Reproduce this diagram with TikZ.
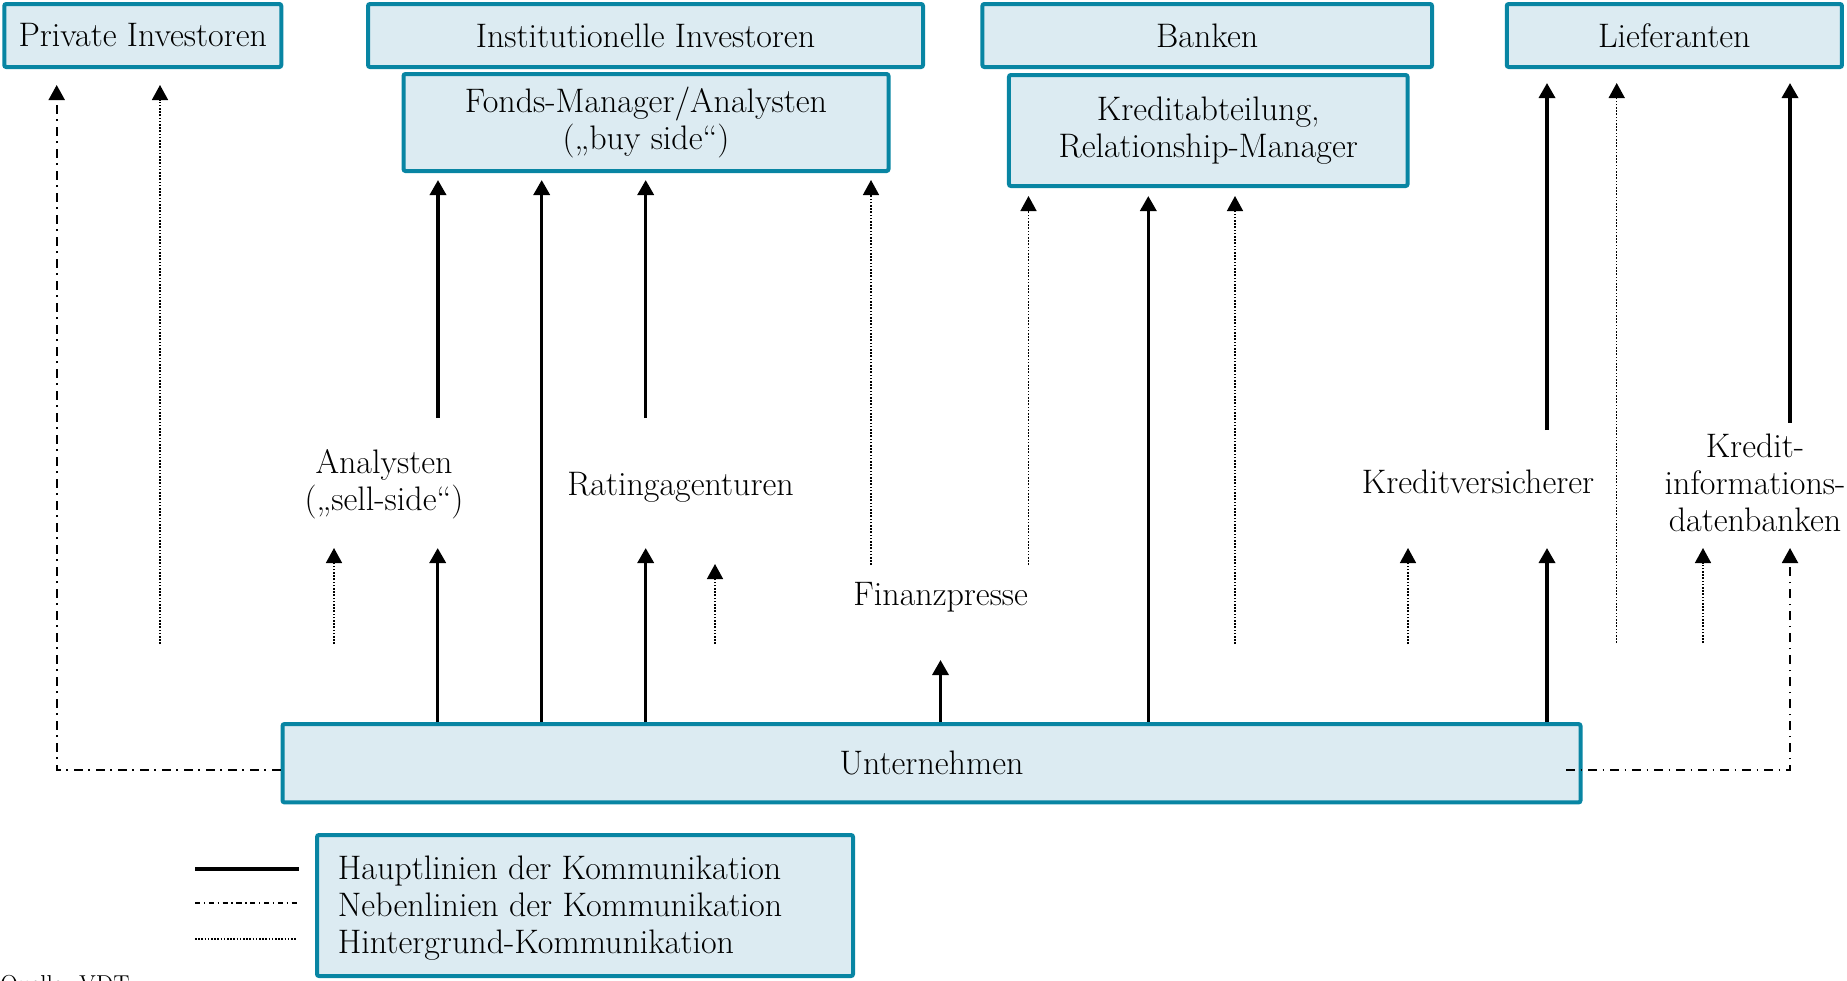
\documentclass[tikz,border=0pt]{standalone}
\usetikzlibrary{arrows.meta}
\definecolor{boxfill}{RGB}{220,235,242}
\definecolor{boxline}{RGB}{8,133,163}
\begin{document}
\begin{tikzpicture}[x=0.5pt,y=-0.5pt,
  font=\fontsize{17}{18.5}\selectfont,
  box/.style={draw=boxline, fill=boxfill, line width=2pt, rounded corners=1pt, inner sep=0pt, align=center},
  haupt/.style={line width=1.7pt},
  neben/.style={line width=1pt, dash pattern=on 4.5pt off 2.8pt on 0.9pt off 2.8pt},
  hinter/.style={line width=0.75pt, dash pattern=on 0.8pt off 0.8pt},
  arr/.style={-{Triangle[width=8pt,length=7.5pt]}},
  lbl/.style={inner sep=0pt, align=center}]
\clip (0,0) rectangle (1847,980);

% top boxes
\node[box, minimum width=138.5pt, minimum height=31.5pt] (priv) at (142.75,35.5) {Private Investoren};
\node[box, minimum width=277.5pt, minimum height=31.5pt] (inst) at (645.5,35.5) {Institutionelle Investoren};
\node[box, minimum width=224.8pt, minimum height=31.5pt] (bank) at (1207.2,35.5) {Banken};
\node[box, minimum width=167.6pt, minimum height=31.5pt] (lief) at (1674.35,35.5) {Lieferanten};
\node[box, minimum width=242.5pt, minimum height=48.5pt] (fonds) at (646,122.5) {Fonds-Manager/Analysten\\(„buy side“)};
\node[box, minimum width=199.3pt, minimum height=55.5pt] (kred) at (1208.25,130.5) {Kreditabteilung,\\Relationship-Manager};

% company and legend
\node[box, minimum width=649pt, minimum height=39.2pt] (unt) at (931.5,763.2) {Unternehmen};
\node[box, minimum width=268pt, minimum height=70.5pt] (leg) at (585,905.5) {};
\node[inner sep=0pt, anchor=base west] (leg1) at (337.5,879) {Hauptlinien der Kommunikation};
\node[inner sep=0pt, anchor=base west] (leg2) at (337.5,916) {Nebenlinien der Kommunikation};
\node[inner sep=0pt, anchor=base west] (leg3) at (337.5,953) {Hintergrund-Kommunikation};

% free labels
\node[lbl] (ana) at (384,484) {Analysten\\(„sell-side“)};
\node[lbl, anchor=base] (rat) at (680.5,495) {Ratingagenturen};
\node[lbl, anchor=base] (fin) at (940.7,605) {Finanzpresse};
\node[lbl, anchor=base] (kv) at (1478,493) {Kreditversicherer};
\node[lbl] (kid) at (1755,483) {Kredit-\\informations-\\datenbanken};

\node[inner sep=0pt, anchor=base west, font=\fontsize{11.5}{14}\selectfont] (src) at (0,991) {Quelle: VDT};

% coordinates: upper connectors
\coordinate (nl) at (56.7,770);   \coordinate (nlT) at (56.7,85);
\coordinate (h1) at (160,644);    \coordinate (h1T) at (160,85);
\coordinate (a1) at (438,418);    \coordinate (a1T) at (438,180);
\coordinate (s2T) at (541.7,180);
\coordinate (r1) at (645.7,418);  \coordinate (r1T) at (645.7,180);
\coordinate (f1) at (871,565);    \coordinate (f1T) at (871,180);
\coordinate (f2) at (1028.5,565); \coordinate (f2T) at (1028.5,196);
\coordinate (s3T) at (1148.3,196);
\coordinate (h2) at (1235,644);   \coordinate (h2T) at (1235,196);
\coordinate (k1) at (1547,430);   \coordinate (k1T) at (1547,83);
\coordinate (h3) at (1616.7,643); \coordinate (h3T) at (1616.7,83);
\coordinate (d1) at (1790,422.7); \coordinate (d1T) at (1790,83);
% coordinates: lower connectors
\coordinate (l1) at (334,644);    \coordinate (l1T) at (334,548);
\coordinate (l2T) at (437.7,548);
\coordinate (l3T) at (645.7,548);
\coordinate (l4) at (715,644);    \coordinate (l4T) at (715,564);
\coordinate (l5T) at (940.5,660);
\coordinate (l6) at (1408,644);   \coordinate (l6T) at (1408,548);
\coordinate (l7T) at (1547,548);
\coordinate (l8) at (1703,643);   \coordinate (l8T) at (1703,548);
\coordinate (nr) at (1790,770);   \coordinate (nrT) at (1790,548);

% upper connectors
\draw[neben,arr] (unt.west |- nl) -- (nl) -- (nlT);
\draw[hinter,arr] (h1) -- (h1T);
\draw[haupt,arr] (a1) -- (a1T);
\draw[haupt,arr] (unt.north -| s2T) -- (s2T);
\draw[haupt,arr] (r1) -- (r1T);
\draw[hinter,arr] (f1) -- (f1T);
\draw[hinter,arr] (f2) -- (f2T);
\draw[haupt,arr] (unt.north -| s3T) -- (s3T);
\draw[hinter,arr] (h2) -- (h2T);
\draw[haupt,arr] (k1) -- (k1T);
\draw[hinter,arr] (h3) -- (h3T);
\draw[haupt,arr] (d1) -- (d1T);

% lower connectors
\draw[hinter,arr] (l1) -- (l1T);
\draw[haupt,arr] (unt.north -| l2T) -- (l2T);
\draw[haupt,arr] (unt.north -| l3T) -- (l3T);
\draw[hinter,arr] (l4) -- (l4T);
\draw[haupt,arr] (unt.north -| l5T) -- (l5T);
\draw[hinter,arr] (l6) -- (l6T);
\draw[haupt,arr] (unt.north -| l7T) -- (l7T);
\draw[hinter,arr] (l8) -- (l8T);
\draw[neben,arr] ([xshift=-8.25pt]unt.east |- nr) -- (nr) -- (nrT);

% legend samples
\coordinate (g1a) at (195,869); \coordinate (g1b) at (298.5,869);
\coordinate (g2a) at (195,903); \coordinate (g2b) at (298.5,903);
\coordinate (g3a) at (195,939); \coordinate (g3b) at (296,939);
\draw[line width=2pt] (g1a) -- (g1b);
\draw[line width=0.8pt, dash pattern=on 2.6pt off 1.8pt on 0.7pt off 1.8pt] (g2a) -- (g2b);
\draw[hinter] (g3a) -- (g3b);
\end{tikzpicture}
\end{document}
